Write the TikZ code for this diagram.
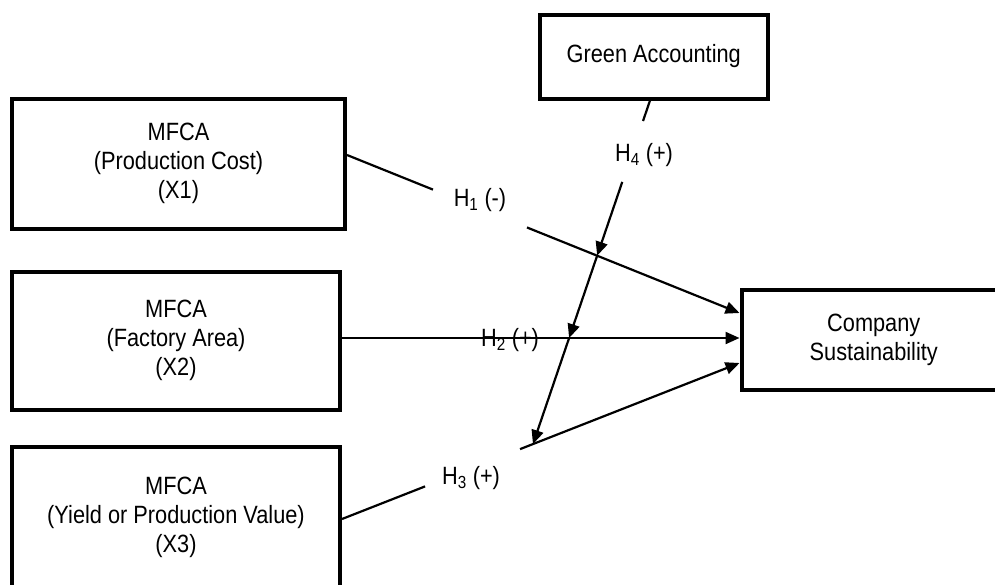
\documentclass[tikz,border=0pt]{standalone}
\usepackage{fontspec}
\newfontfamily\arialx[FakeStretch=0.87]{Liberation Sans}
\usetikzlibrary{arrows.meta,intersections,calc}
\begin{document}
\begin{tikzpicture}[x=1pt,y=-1pt,
  txt/.style={font=\arialx\fontsize{25}{29}\selectfont},
  box/.style={txt, draw, line width=4pt, align=center, inner sep=0pt},
  conn/.style={line width=2.2pt},
  arr/.style={conn, -{Triangle[length=14pt,width=12pt]}},
  lab/.style={txt, inner sep=0pt}]
\clip (0,0) rectangle (995,584);
\fill[white] (0,0) rectangle (995,584);
% boxes
\node[box, minimum width=333pt, minimum height=129.5pt] (x1) at (178.5,163.75) {MFCA\\(Production Cost)\\(X1)};
\node[box, minimum width=328pt, minimum height=138.5pt] (x2) at (176,340.75) {MFCA\\(Factory Area)\\(X2)};
\node[box, minimum width=328pt, minimum height=141pt] (x3) at (176,517) {MFCA\\(Yield or Production Value)\\(X3)};
\node[box, minimum width=227.5pt, minimum height=84pt] (ga) at (653.75,56.5) {Green Accounting};
\node[box, minimum width=264.5pt, minimum height=100pt] (cs) at (873.75,340) {Company\\Sustainability};
% end points
\coordinate (h1s) at (x1.east |- 0,155);
\coordinate (h1e) at (cs.west |- 0,313);
\coordinate (h2s) at (x2.east |- 0,338);
\coordinate (h2e) at (cs.west |- 0,338);
\coordinate (h3s) at (x3.east |- 0,519);
\coordinate (h3e) at (cs.west |- 0,363);
\coordinate (h4s) at (ga.south -| 650,0);
\coordinate (h4d) at (533,444);
\path[name path=l1] (h1s) -- (h1e);
\path[name path=l2] (h2s) -- (h2e);
\path[name path=l3] (h3s) -- (h3e);
\path[name path=l4] (h4s) -- ($(h4s)!1.1!(h4d)$);
\path[name intersections={of=l4 and l1, by=i1}];
\path[name intersections={of=l4 and l2, by=i2}];
\path[name intersections={of=l4 and l3, by=i3}];
% H1
\draw[conn] (h1s) -- ($(h1s)!0.219!(h1e)$);
\draw[arr] ($(h1s)!0.4586!(h1e)$) -- (h1e);
% H2
\draw[arr] (h2s) -- (h2e);
% H3
\draw[conn] (h3s) -- ($(h3s)!0.209!(h3e)$);
\draw[arr] ($(h3s)!0.448!(h3e)$) -- (h3e);
% H4
\draw[conn] (h4s) -- ($(h4s)!0.0597!(i3)$);
\draw[arr] ($(h4s)!0.237!(i3)$) -- (i1);
\draw[arr] (i1) -- (i2);
\draw[arr] (i2) -- (i3);
% labels
\node[lab] (lh1) at (480,200) {H\textsubscript{1} (-)};
\node[lab] (lh2) at (510,340) {H\textsubscript{2} (+)};
\node[lab] (lh3) at (471,478) {H\textsubscript{3} (+)};
\node[lab] (lh4) at (644,155) {H\textsubscript{4} (+)};
\end{tikzpicture}
\end{document}
